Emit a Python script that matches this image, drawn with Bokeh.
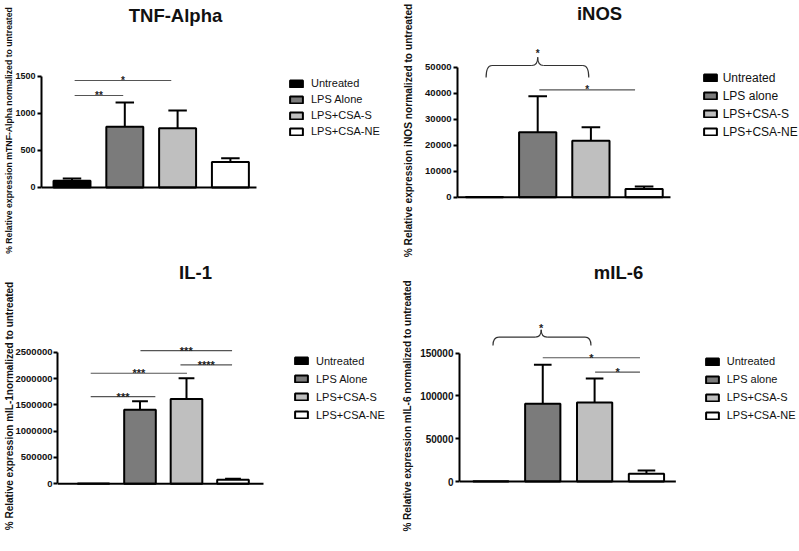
from bokeh.plotting import figure
from bokeh.models import ColumnDataSource, Label, FixedTicker, Range1d, NumeralTickFormatter
from bokeh.layouts import column, row
from bokeh.embed import file_html
from bokeh.resources import INLINE
from bokeh.core.properties import value

# ---------------- data ----------------
groups_a = ["Untreated", "LPS Alone", "LPS+CSA-S", "LPS+CSA-NE"]
groups_b = ["Untreated", "LPS alone", "LPS+CSA-S", "LPS+CSA-NE"]
fills = ["#000000", "#7b7b7b", "#bfbfbf", "#ffffff"]

tnf_mean = [90, 820, 800, 345]
tnf_sem = [30, 330, 240, 51]
tnf_ticks = [0, 500, 1000, 1500]
tnf_sig_x0 = [1.05, 1.05]
tnf_sig_x1 = [1.97, 2.88]
tnf_sig_y = [1243, 1446]
tnf_sig_text = ["**", "*"]

inos_mean = [100, 25000, 21700, 3200]
inos_sem = [0, 13850, 5200, 900]
inos_ticks = [0, 10000, 20000, 30000, 40000, 50000]
inos_sig_x0 = [2.03]
inos_sig_x1 = [3.83]
inos_sig_y = [41300]
inos_sig_text = ["*"]
inos_brace = dict(x0=1.03, x1=2.96, xm=2.0, y_end=46000, y_bar=50650, y_tip=53850, star_y=55400, text="*")

il1_mean = [5000, 1405000, 1613000, 76000]
il1_sem = [0, 163000, 391000, 19000]
il1_ticks = [0, 500000, 1000000, 1500000, 2000000, 2500000]
il1_sig_x0 = [0.94, 0.94, 2.87, 2.01]
il1_sig_x1 = [2.33, 3.01, 3.98, 3.98]
il1_sig_y = [1657000, 2100000, 2259000, 2530000]
il1_sig_text = ["***", "***", "****", "***"]

il6_mean = [300, 90900, 92400, 9000]
il6_sem = [0, 45600, 28100, 3900]
il6_ticks = [0, 50000, 100000, 150000]
il6_sig_x0 = [2.00, 3.01]
il6_sig_x1 = [3.875, 3.875]
il6_sig_y = [144700, 127800]
il6_sig_text = ["*", "*"]
il6_brace = dict(x0=1.04, x1=2.93, xm=1.97, y_end=159000, y_bar=168800, y_tip=177400, star_y=179200, text="*")

titles = ["TNF-Alpha", "iNOS", "IL-1", "mIL-6"]
ylabels = [
    "% Relative expression mTNF-Alpha normalized to untreated",
    "% Relative expression iNOS normalized to untreated",
    "% Relative expression mIL-1normalized to untreated",
    "% Relative expression mIL-6 normalized to untreated",
]

SIG_COLOR = "#555555"


def make_panel(title, ylabel, groups, mean, sem, ticks, sx0, sx1, sy, stext, brace, L):
    p = figure(width=L["w"], height=L["h"],
               x_range=Range1d(*L["xr"]), y_range=Range1d(*L["yr"]),
               output_backend="svg", toolbar_location=None,
               x_axis_location=None, min_border=0, min_border_left=L["mbl"],
               outline_line_color=None, background_fill_color="white",
               border_fill_color="white")
    p.grid.visible = False

    xs = list(range(1, len(groups) + 1))
    src = ColumnDataSource(dict(x=xs, top=mean, fill=fills, group=groups))
    p.vbar(x="x", top="top", bottom=0, width=L["bw"], fill_color="fill",
           line_color="black", line_width=2, source=src, legend_field="group")

    ex = [x for x, s in zip(xs, sem) if s > 0]
    em = [m for m, s in zip(mean, sem) if s > 0]
    et = [m + s for m, s in zip(mean, sem) if s > 0]
    cw = L["bw"] * 0.5
    p.segment(x0=ex, y0=em, x1=ex, y1=et, line_color="black", line_width=2)
    p.segment(x0=[x - cw / 2 for x in ex], y0=et, x1=[x + cw / 2 for x in ex], y1=et,
              line_color="black", line_width=2)

    # baseline (x axis line)
    p.segment(x0=[L["xr"][0]], y0=[0], x1=[L["base_end"]], y1=[0],
              line_color="black", line_width=2)

    # significance lines
    p.segment(x0=sx0, y0=sy, x1=sx1, y1=sy, line_color=SIG_COLOR, line_width=1.2)
    p.text(x=[(a + b) / 2 for a, b in zip(sx0, sx1)], y=sy, text=stext,
           text_align="center", text_baseline="alphabetic",
           text_font=value("Liberation Sans"), text_font_style="bold",
           text_font_size=L["star"], text_color="#222222")

    if brace is not None:
        b = brace
        d = L["bd"]
        p.quadratic(x0=[b["x0"], b["xm"] - d, b["xm"] + d, b["x1"] - d],
                    y0=[b["y_end"], b["y_bar"], b["y_bar"], b["y_bar"]],
                    x1=[b["x0"] + d, b["xm"], b["xm"], b["x1"]],
                    y1=[b["y_bar"], b["y_tip"], b["y_tip"], b["y_end"]],
                    cx=[b["x0"], b["xm"], b["xm"], b["x1"]],
                    cy=[b["y_bar"], b["y_bar"], b["y_bar"], b["y_bar"]],
                    line_color="#333333", line_width=1.2)
        p.segment(x0=[b["x0"] + d, b["xm"] + d], y0=[b["y_bar"], b["y_bar"]],
                  x1=[b["xm"] - d, b["x1"] - d], y1=[b["y_bar"], b["y_bar"]],
                  line_color="#333333", line_width=1.2)
        p.text(x=[b["xm"]], y=[b["star_y"]], text=[b["text"]], text_align="center",
               text_baseline="alphabetic", text_font=value("Liberation Sans"),
               text_font_style="bold", text_font_size=L["star"], text_color="#222222")

    ax = p.yaxis[0]
    ax.ticker = FixedTicker(ticks=ticks)
    ax.bounds = (0, ticks[-1])
    ax.formatter = NumeralTickFormatter(format="0")
    ax.axis_line_width = 2
    ax.major_tick_line_width = 2
    ax.major_tick_out = 4
    ax.major_tick_in = 0
    ax.minor_tick_line_color = None
    ax.major_label_standoff = L["mls"]
    ax.major_label_text_font = "Liberation Sans"
    ax.major_label_text_font_style = "bold"
    ax.major_label_text_font_size = L["tick"]
    ax.major_label_text_color = "#111111"
    ax.axis_label = ylabel
    ax.axis_label_standoff = L["ls"]
    ax.axis_label_text_font = "Liberation Sans"
    ax.axis_label_text_font_style = "bold"
    ax.axis_label_text_font_size = L["yfont"]
    ax.axis_label_text_color = "#111111"

    lg = p.legend[0]
    lg.location = L["leg"]
    lg.label_text_font = "Liberation Sans"
    lg.label_text_font_size = L["legfont"]
    lg.label_text_color = "#111111"
    lg.glyph_width = 16
    lg.glyph_height = 9
    lg.label_height = L["lh"]
    lg.label_standoff = L["legsd"]
    lg.spacing = L["legsp"]
    lg.padding = 0
    lg.margin = 0
    lg.border_line_color = None
    lg.background_fill_alpha = 0

    p.add_layout(Label(x=L["tpos"][0], y=L["tpos"][1], x_units="screen", y_units="screen",
                       text=title, text_align="center", text_baseline="middle",
                       text_font="Liberation Sans", text_font_style="bold",
                       text_font_size="18.5px", text_color="#111111"))
    return p


L1 = dict(w=399, h=260, mbl=41, xr=(0.4223, 7.2027), yr=(-986.5, 2527), base_end=4.494,
          bw=0.70, star="10px", bd=0.1, tick="9px", mls=2, ls=-2, yfont="8.7px",
          leg=(247, 122.2), legfont="11px", lh=13, legsd=7, legsp=3, tpos=(134, 245.5))
L2 = dict(w=400, h=260, mbl=58, xr=(0.4925, 6.921), yr=(-24346, 75654), base_end=4.496,
          bw=0.70, star="10px", bd=0.11, tick="9.5px", mls=2, ls=8, yfont="10.2px",
          leg=(244.7, 121.5), legfont="12px", lh=14, legsd=5, legsp=4, tpos=(142, 247.5))
L3 = dict(w=399, h=291, mbl=57, xr=(0.2258, 7.581), yr=(-1286000, 4242000), base_end=4.656,
          bw=0.68, star="11px", bd=0.1, tick="9.5px", mls=1, ls=-2, yfont="10px",
          leg=(236, 129.8), legfont="11px", lh=13, legsd=7, legsp=5, tpos=(138, 279))
L4 = dict(w=400, h=291, mbl=59, xr=(0.3942, 6.952), yr=(-81840, 258390), base_end=4.567,
          bw=0.68, star="11px", bd=0.115, tick="10px", mls=2, ls=4, yfont="10px",
          leg=(244.7, 129.5), legfont="11px", lh=13, legsd=7, legsp=5, tpos=(159, 279))

p1 = make_panel(titles[0], ylabels[0], groups_a, tnf_mean, tnf_sem, tnf_ticks,
                tnf_sig_x0, tnf_sig_x1, tnf_sig_y, tnf_sig_text, None, L1)
p2 = make_panel(titles[1], ylabels[1], groups_b, inos_mean, inos_sem, inos_ticks,
                inos_sig_x0, inos_sig_x1, inos_sig_y, inos_sig_text, inos_brace, L2)
p3 = make_panel(titles[2], ylabels[2], groups_a, il1_mean, il1_sem, il1_ticks,
                il1_sig_x0, il1_sig_x1, il1_sig_y, il1_sig_text, None, L3)
p4 = make_panel(titles[3], ylabels[3], groups_b, il6_mean, il6_sem, il6_ticks,
                il6_sig_x0, il6_sig_x1, il6_sig_y, il6_sig_text, il6_brace, L4)

layout = column(row(p1, p2), row(p3, p4))

open("out.html", "w").write(file_html(layout, INLINE))
